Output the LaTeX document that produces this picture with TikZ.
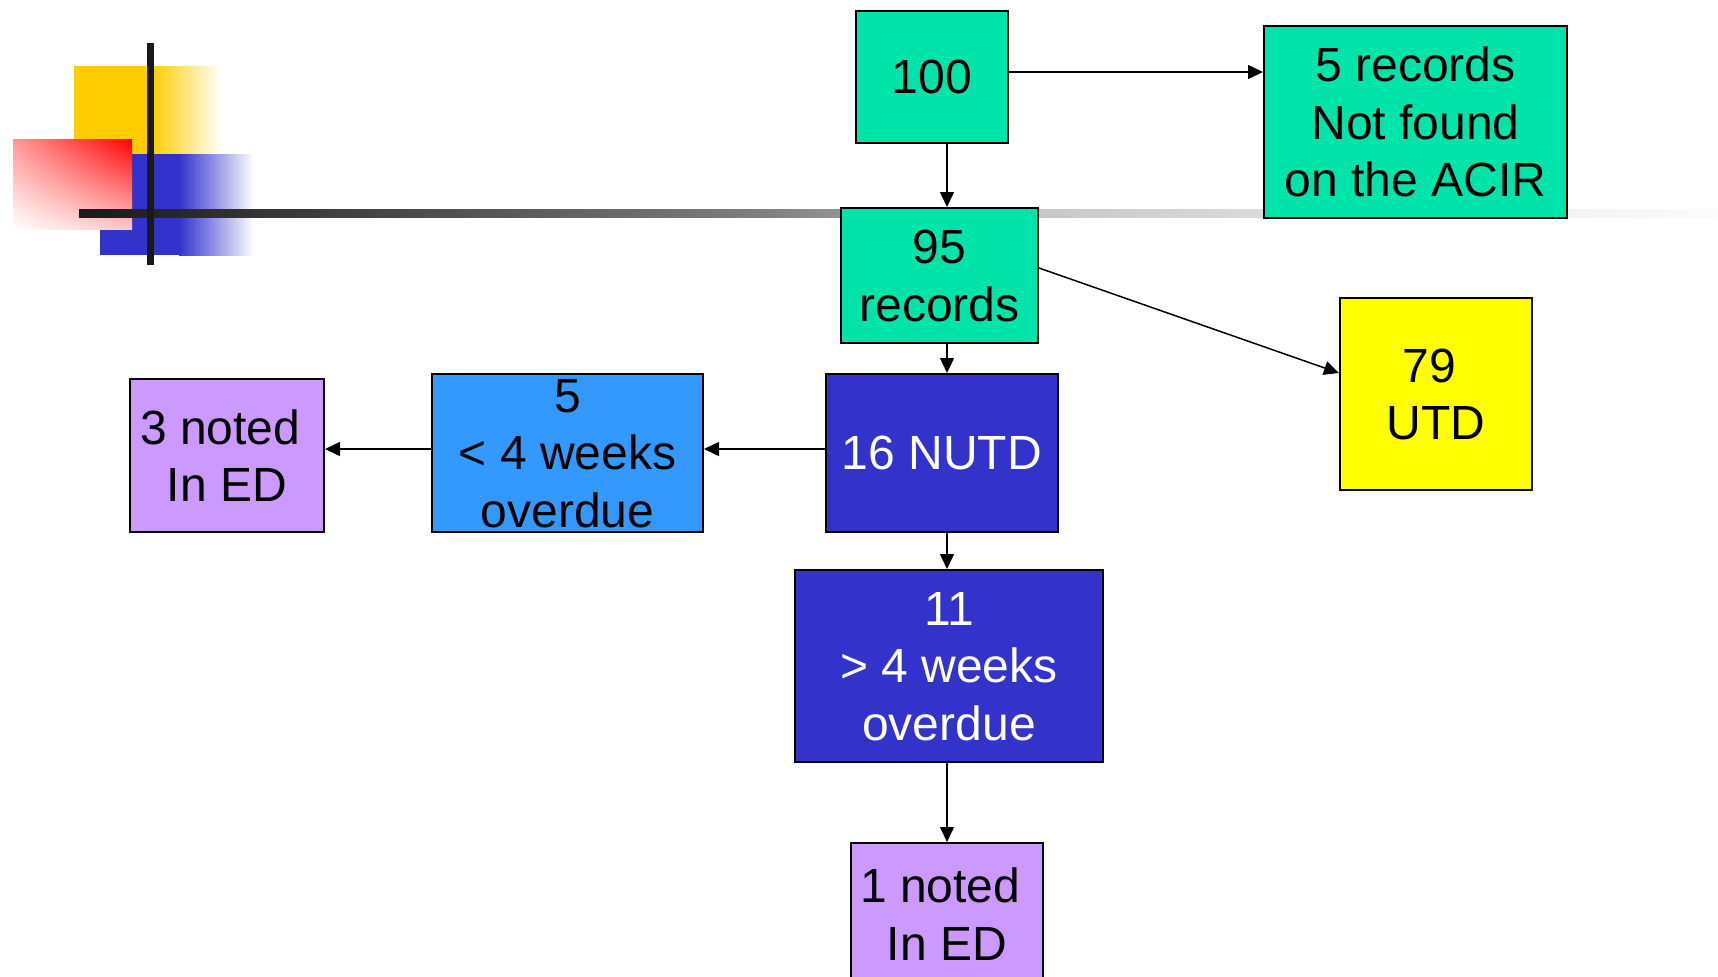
\documentclass[tikz,border=0pt]{standalone}
\usepackage{fontspec}
\setmainfont{Liberation Sans}
\usetikzlibrary{arrows.meta,calc,shadings}
\definecolor{boxgreen}{HTML}{00E4AA}
\definecolor{utdyellow}{HTML}{FFFF00}
\definecolor{darkblue}{HTML}{3333CC}
\definecolor{lightblue}{HTML}{3399FF}
\definecolor{lilac}{HTML}{CC99FF}
\definecolor{decoyellow}{HTML}{FFCC00}
\definecolor{decoblue}{HTML}{3333CC}
\definecolor{barA}{gray}{0.10}
\definecolor{barB}{gray}{0.50}
\definecolor{barC}{gray}{0.78}
\definecolor{barD}{gray}{0.94}
\definecolor{barE}{gray}{0.985}
\pgfdeclarehorizontalshading{barshade}{100bp}{color(0bp)=(barA); color(25bp)=(barA); color(46bp)=(barB); color(54.3bp)=(barC); color(68.4bp)=(barD); color(75bp)=(barE); color(100bp)=(barE)}
\newcommand{\trsp}{\rule{0.278em}{0pt}}
\begin{document}
\begin{tikzpicture}[x=0.5pt,y=-0.5pt,
  box/.style={draw=black,line width=1pt,rectangle,inner sep=0pt,align=center,text depth=-2.2pt,font=\fontsize{24}{28.75}\selectfont},
  arr/.style={line width=0.75pt,-{Triangle[length=7.5pt,width=7pt]}}]
\useasboundingbox (0,0) rectangle (1718,976);
\clip (0,0) rectangle (1718,976);
% decoration
\fill[decoyellow] (74,66) rectangle (152,155);
\shade[left color=decoyellow,right color=white] (151,66) rectangle (222,155);
\fill[decoblue] (100,154) rectangle (180,255);
\shade[left color=decoblue,right color=white] (179,154) rectangle (254,255);
\shade[upper left=red!40,upper right=red,lower left=white,lower right=red!22] (13,139) rectangle (132,229);
\shade[shading=barshade] (79,209) rectangle (1718,217);
\fill[barA] (147,43) rectangle (154,265);
% boxes
\node[box,fill=boxgreen,minimum width=76pt,minimum height=66pt] (n100) at (932,77) {100};
\node[box,fill=boxgreen,minimum width=151.5pt,minimum height=96pt] (nacir) at (1415.5,122) {5 records\\Not found\\on the ACIR};
\node[box,fill=boxgreen,minimum width=98.5pt,minimum height=67.5pt] (n95) at (939.5,275.5) {95\\records};
\node[box,fill=utdyellow,minimum width=96pt,minimum height=96pt] (n79) at (1436,394) {79\trsp\\UTD};
\node[box,fill=darkblue,text=white,minimum width=116pt,minimum height=79pt] (n16) at (942,453) {16 NUTD};
\node[box,fill=lightblue,minimum width=135.5pt,minimum height=79pt] (n5) at (567.5,453) {5\\< 4 weeks\\overdue};
\node[box,fill=lilac,minimum width=97pt,minimum height=76.5pt] (n3) at (227,455.5) {3 noted\trsp\\In ED};
\node[box,fill=darkblue,text=white,minimum width=154pt,minimum height=96pt] (n11) at (949,666) {11\\> 4 weeks\\overdue};
\node[box,fill=lilac,minimum width=96pt,minimum height=71pt] (n1) at (947,914) {1 noted\trsp\\In ED};
% connectors
\coordinate (axis) at (947,0);
\draw[arr] (n100.south -| axis) -- (n95.north -| axis);
\draw[arr] (n95.south -| axis) -- (n16.north -| axis);
\draw[arr] (n16.south -| axis) -- (n11.north -| axis);
\draw[arr] (n11.south -| axis) -- (n1.north -| axis);
\draw[arr] ([yshift=2.5pt]n100.east) -- ([yshift=2.5pt]n100.east -| nacir.west);
\draw[arr] ([yshift=3.75pt]n95.east) -- ([yshift=10.5pt]n79.west);
\draw[arr] ([yshift=2pt]n16.west) -- ([yshift=2pt]n16.west -| n5.east);
\draw[arr] ([yshift=2pt]n5.west) -- ([yshift=2pt]n5.west -| n3.east);
\end{tikzpicture}
\end{document}
